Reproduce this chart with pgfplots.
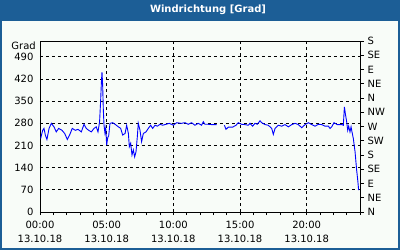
\documentclass[border=0pt]{standalone}
\usepackage{pgfplots}
\pgfplotsset{compat=1.18}
\usepackage{fontspec}
\setmainfont{DejaVu Sans}
\definecolor{frameblue}{HTML}{1C5E96}
\definecolor{panelbg}{HTML}{F8FCF8}
\definecolor{lineblue}{HTML}{0000FF}
\pgfplotstableread{
h v
0.05 232
0.2 258
0.3 264
0.4 243
0.52 229
0.68 264
0.85 280
1.05 269
1.22 253
1.4 264
1.65 258
1.85 248
2.05 229
2.22 243
2.42 264
2.65 258
2.85 261
3.1 253
3.3 277
3.47 264
3.65 258
3.85 253
4.05 264
4.22 269
4.35 253
4.47 285
4.55 353
4.6 406
4.65 442
4.7 400
4.75 322
4.8 275
4.87 250
4.93 265
5.0 211
5.08 235
5.15 240
5.25 280
5.45 282
5.63 277
5.88 269
6.05 264
6.2 243
6.38 248
6.5 274
6.63 248
6.7 206
6.8 217
6.9 180
7.0 196
7.1 174
7.2 190
7.3 238
7.37 280
7.5 258
7.62 222
7.75 248
7.95 253
8.12 264
8.3 274
8.45 264
8.63 274
8.8 271
9.0 277
9.2 274
9.45 277
9.7 280
10.0 274
10.25 282
10.6 280
10.87 282
11.12 277
11.37 282
11.62 274
11.87 280
12.12 274
12.25 285
12.37 277
12.62 277
12.87 276
13.25 276
}\segA
\pgfplotstableread{
h v
13.83 274
13.95 261
14.12 268
14.45 268
14.7 274
14.87 282
15.12 277
15.37 276
15.62 274
15.75 280
15.95 271
16.12 280
16.3 277
16.5 288
16.63 282
16.88 276
17.12 274
17.38 264
17.5 245
17.63 264
17.88 274
18.13 271
18.38 276
18.63 269
18.88 276
19.13 280
19.38 276
19.63 266
19.88 276
20.13 282
20.38 276
20.63 271
20.88 277
21.13 276
21.38 271
21.63 271
21.75 264
21.88 269
22.05 282
22.3 276
22.63 276
22.75 274
22.83 332
22.9 311
23.0 285
23.08 258
23.15 271
23.25 253
23.33 269
23.4 253
23.5 232
23.63 190
23.75 132
23.83 101
23.9 69
}\segB
\begin{document}
\begin{tikzpicture}[x=1pt,y=1pt]
\useasboundingbox (0,0) rectangle (400,250);
\fill[frameblue] (0,0) rectangle (400,250);
\fill[panelbg] (2,2) rectangle (398,229);
\node[text=white, font=\fontsize{10}{12}\selectfont\bfseries] at (208,240) {Windrichtung [Grad]};
\node[anchor=east, font=\fontsize{10}{12}\selectfont, inner sep=0pt] at (36,204) {Grad};
\begin{axis}[
  at={(40pt,38pt)}, anchor=south west,
  scale only axis, width=320pt, height=171pt,
  xmin=0, xmax=24, ymin=0, ymax=540,
  axis line style={black, line width=0.8pt},
  xtick={0,5,10,15,20},
  xticklabels={{00:00\\13.10.18},{05:00\\13.10.18},{10:00\\13.10.18},{15:00\\13.10.18},{20:00\\13.10.18}},
  xticklabel style={align=center, font=\fontsize{10}{14}\selectfont, yshift=-3pt},
  minor xtick={1,2,3,4,6,7,8,9,11,12,13,14,16,17,18,19,21,22,23,24},
  xtick pos=bottom,
  tick align=outside,
  major tick length=3pt, minor tick length=3pt,
  tick style={black, line width=0.8pt},
  ytick={0,70,140,210,280,350,420,490},
  yticklabels={0,70,140,210,280,350,420,490},
  yticklabel style={font=\fontsize{10}{12}\selectfont},
  ytick style={draw=none},
  ytick pos=left,
  xmajorgrids, ymajorgrids,
  grid style={black, line width=0.8pt, dash pattern=on 3pt off 3pt},
]
\addplot[lineblue, line width=0.9pt] table[x=h,y=v] {\segA};
\addplot[lineblue, line width=0.9pt] table[x=h,y=v] {\segB};
\end{axis}
\begin{axis}[
  at={(40pt,38pt)}, anchor=south west,
  scale only axis, width=320pt, height=171pt,
  xmin=0, xmax=24, ymin=0, ymax=540,
  axis x line=none,
  axis y line*=right,
  axis line style={black, line width=0.8pt},
  ytick={0,45,90,135,180,225,270,315,360,405,450,495,540},
  yticklabels={N,NE,E,SE,S,SW,W,NW,N,NE,E,SE,S},
  yticklabel style={font=\fontsize{10}{12}\selectfont},
  tick align=outside, major tick length=4pt,
  tick style={black, line width=0.8pt},
]
\end{axis}
\end{tikzpicture}
\end{document}
